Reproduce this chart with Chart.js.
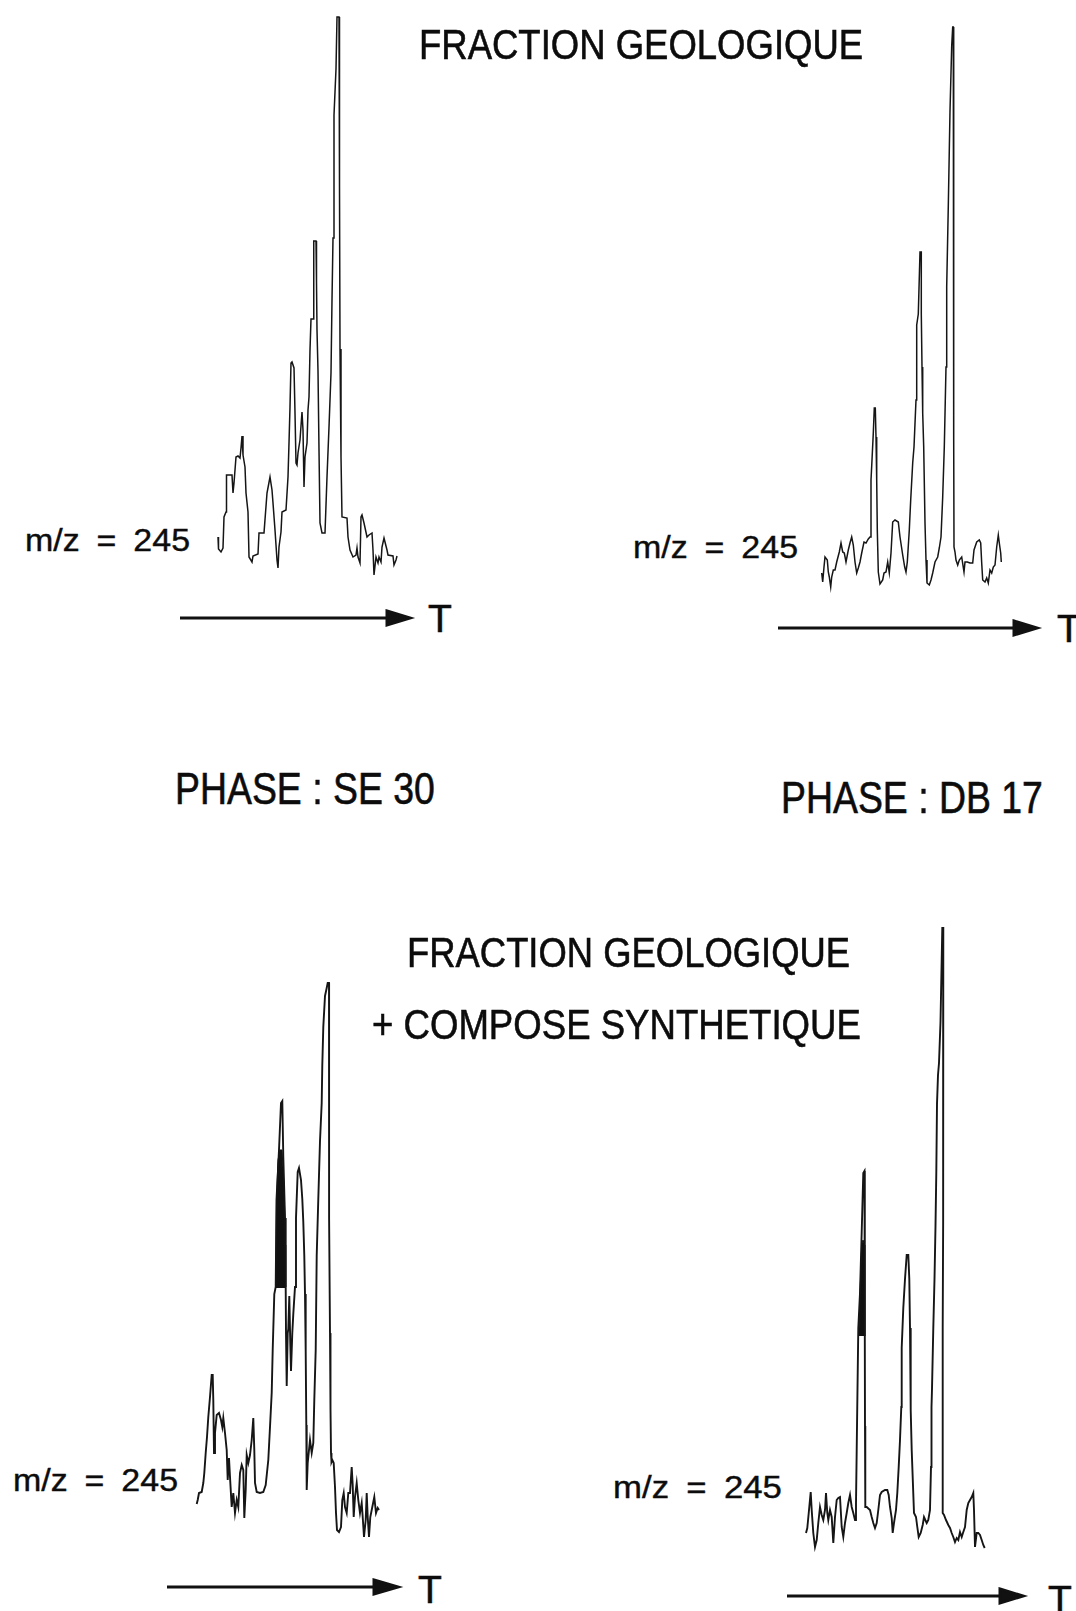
<!DOCTYPE html>
<html>
<head>
<meta charset="utf-8">
<script src="https://cdn.jsdelivr.net/npm/chart.js@4.4.1/dist/chart.umd.min.js"></script>
<style>
  html, body { margin: 0; padding: 0; background: #fff; }
  #page { position: relative; width: 1076px; height: 1611px; overflow: hidden; background: #fff; }
  canvas { position: absolute; }
  .lbl { position: absolute; white-space: nowrap; line-height: 1; color: #0c0c0c;
         font-family: "Liberation Sans", Arial, sans-serif; transform-origin: 0 0;
         -webkit-text-stroke: 0.6px #0c0c0c; }
  .big { font-size: 42px; }
  .phase { font-size: 44px; }
  .mz { font-size: 32px; word-spacing: 7px; -webkit-text-stroke: 0.4px #0c0c0c; }
  .t { font-size: 39px; }
  svg { position: absolute; left: 0; top: 0; }
</style>
</head>
<body>
<div id="page">
  <canvas id="c1" width="190" height="580" style="left:215px;top:0px"></canvas>
  <canvas id="c2" width="195" height="595" style="left:815px;top:0px"></canvas>
  <canvas id="c3" width="195" height="595" style="left:190px;top:950px"></canvas>
  <canvas id="c4" width="195" height="635" style="left:800px;top:920px"></canvas>

  <div class="lbl big" data-w="444" style="left:419px;top:24px">FRACTION GEOLOGIQUE</div>
  <div class="lbl phase" data-w="260" style="left:175px;top:767px">PHASE : SE 30</div>
  <div class="lbl phase" data-w="262" style="left:781px;top:776px">PHASE : DB 17</div>
  <div class="lbl big" data-w="443" style="left:407px;top:932px">FRACTION GEOLOGIQUE</div>
  <div class="lbl big" data-w="489" style="left:372px;top:1004px">+ COMPOSE SYNTHETIQUE</div>

  <div class="lbl mz" data-w="165" style="left:25px;top:524px">m/z = 245</div>
  <div class="lbl mz" data-w="165" style="left:633px;top:531px">m/z = 245</div>
  <div class="lbl mz" data-w="165" style="left:13px;top:1464px">m/z = 245</div>
  <div class="lbl mz" data-w="169" style="left:613px;top:1471px">m/z = 245</div>

  <div class="lbl t" style="left:428px;top:599px">T</div>
  <div class="lbl t" style="left:1057px;top:609px">T</div>
  <div class="lbl t" style="left:418px;top:1570px">T</div>
  <div class="lbl t" style="left:1048px;top:1580px">T</div>

  <svg width="1076" height="1611">
    <g stroke="#111" stroke-width="3" fill="#111">
      <line x1="180" y1="618" x2="392" y2="618"/>
      <polygon points="387,611 410,618 387,625"/>
      <line x1="778" y1="628" x2="1018" y2="628"/>
      <polygon points="1014,621 1037,628 1014,635"/>
      <line x1="167" y1="1587" x2="378" y2="1587"/>
      <polygon points="374,1580 398,1587 374,1594"/>
      <line x1="787" y1="1596" x2="1004" y2="1596"/>
      <polygon points="1000,1589 1023,1596 1000,1603"/>
    </g>
  </svg>
</div>

<script>
// ---- Datos leídos del cromatogramme (m/z = 245) ----
// temps de rétention (unités arbitraires) et intensité du signal

// Fraction géologique, phase SE 30
const p1Time = [3,3.5,6,8,9,11,11.5,17,18,19,21,23,25,26,27,28,30,31,33,34,37,38,43,44,49,52,55,57,58,60,62,63,64,66,67,71,73,74,75,76,77,79,80,81,82,83,85,87,88,89,90,92,93,94,95,96,98,98.5,99,101,101.5,102,103,104,105,107,110,112,114,116,117,118,119,121,122,124,124.5,125,126,127,132,133,135,138,141,142,143,145,146,147,149,152,154,157,158,159,161,163,164,166,167,169,172,173,178,179,181,182];
const p1Signal = [43,31,28,32,63,68,105,105,87,97,123,124,122,132,144,125,113,87,68,23,18,24,26,47,47,87,103,90,77,50,20,12,33,48,68,70,103,137,173,217,218,212,167,117,115,127,140,168,150,93,123,137,170,183,230,261,261,298,339,339,298,250,209,130,57,47,47,103,153,207,280,342,465,511,563,563,394,231,123,63,62,43,30,23,25,32,23,17,63,65,57,43,45,47,30,5,23,17,23,18,33,42,30,25,24,15,20,24];

// Fraction géologique, phase DB 17
const p2Time = [6.7,7.7,9,10,12.3,13.3,14.3,15.7,16.7,18.3,20,21.7,24.3,26,27.7,29.3,31,33.3,35,36.7,38.3,40,41.7,43.3,45,46.7,49,51,53.3,55,56,57,58.3,59.3,60.3,61,61.7,62.3,63.3,65,67.7,69,71,72.7,74.3,76,77.7,80,83.3,85,87.7,89.7,91,92.3,94.3,95.7,97.7,99,101,101.7,103.3,105,106.3,106.3,107,107.7,108.7,110,111,112,114.3,116,117.7,120,122.7,124.3,126,127.7,129.3,131,131.7,133.3,135,136.7,137.7,138.3,138.7,138.7,139,140,141,142.7,144.3,146.7,149,150,152.3,155,157.7,159,161.7,164.3,165.7,166.7,167.7,170,171.7,173.3,175,176.7,178.3,180,181.7,183.3,184.3,185.7,186.3];
const p2Signal = [22,13,28,38,35,23,18,8,18,25,25,33,43,52,43,42,33,45,52,58,50,33,22,27,33,42,53,52,56,58,115,135,162,187,187,158,115,65,23,11,15,22,23,33,22,42,73,75,73,58,40,28,23,33,65,95,132,148,195,270,281,343,343,281,228,182,148,72,35,12,10,15,22,33,38,47,58,98,148,228,308,389,484,549,568,568,396,155,48,43,35,30,35,38,23,33,33,32,32,45,53,55,52,32,15,13,17,12,25,22,28,30,48,60,52,42,33];

// Fraction géologique + composé synthétique, phase SE 30
const p3Time = [6.7,7.7,9,11.7,13.3,14.3,15.7,17,18.3,20,21.7,22.7,23.3,24,25,26.7,29,31,32.3,33.3,35,36.7,37.7,39,40,41.7,43.3,45,46.7,48.3,50,51.7,53.3,54.3,55.7,56.7,58.3,60,61.7,63.3,64.3,65,66.7,70,73.3,75.7,78.3,80,81.7,82.7,84.3,85.7,86.5,89,91,92.3,93.3,95,95.7,96,96.7,97.7,98.3,99.3,100.3,101,102.3,103.3,105,106,107.7,109,111,112.3,113.3,114.3,115,115.7,116.3,116.7,117.7,119,120,121.7,123.3,124.3,125.7,126.7,128.3,130,131.7,132.3,133.3,135,136.7,137.7,139,139,139,139.3,140,140.5,141,141.5,142.3,143.7,145,146,147,149,151,152.3,153.7,155,156.7,158.3,160,161.7,162.7,163.7,165,166.7,168.3,170,171.7,172.7,174,175.7,176.7,177.7,179,180.3,182.3,184.3,186,187.7,189];
const p3Signal = [41,45,52,53,62,72,92,108,128,148,170,170,145,92,112,130,132,125,118,127,112,95,65,87,68,38,52,32,45,38,72,80,75,27,55,90,82,90,105,127,95,62,53,52,53,60,85,118,152,195,251,258,345,395,442,444,388,327,257,212,159,212,216,249,201,174,212,231,258,327,373,377,365,346,323,289,251,193,120,55,82,95,105,92,102,145,195,289,346,404,442,480,518,549,557,562,562,518,434,327,212,136,92,83,85,82,58,32,15,13,18,45,52,38,32,52,52,78,60,28,48,62,45,32,42,28,8,25,52,28,8,28,38,48,32,37,35];
// partie noircie (co-injection du composé synthétique)
const p3SynTime = [85.7,86.5,88,90,92,94,95.5,95.7];
const p3SynSignal = [258,345,385,395,395,360,300,258];
const p3SynBase = 257;

// Fraction géologique + composé synthétique, phase DB 17
const p4Time = [6,7.3,9.3,10.7,11.7,13.3,15,16.7,18.3,20,21.7,23.3,25,26,27.3,28.3,30,31.7,33.3,35,36.7,38.3,40,41.7,43.3,45,46.7,48.3,50,51.7,53.3,55,56,56.7,58.3,60,61.7,63.3,64.5,64.8,65,65.3,66.7,70,71.7,73.3,75,76.7,78.3,80,81.7,85,87.3,88.7,90,91.7,92.7,94,96,97.3,98.7,100,101.3,101.7,103.3,105,106.7,108.3,109.3,110,110.7,111.7,114,116,117.3,118.7,120.7,122.7,124,125.3,126.7,128.3,130,131,131.5,132,133.3,134.5,135.5,136.3,137,138,139,140.5,142.3,143.3,143.3,143,142.7,142.7,142.7,144,146,148.3,150,151.7,153.3,155,156.7,158.3,160,161.7,163.3,165,166.7,168.3,170,171.7,173.3,174,175,176.7,178.3,180,181.7,183.3,184.7];
const p4Signal = [22,27,48,63,45,22,8,15,32,48,40,35,45,62,42,35,45,38,12,38,55,57,58,28,18,32,42,52,60,48,42,35,52,105,227,262,323,382,384,219,129,48,48,45,38,32,27,32,45,60,63,65,65,60,48,37,22,32,45,62,88,115,148,207,247,276,300,300,276,227,145,105,42,38,28,18,22,30,38,35,32,35,45,88,148,166,227,276,329,382,451,480,492,533,627,627,480,333,227,145,42,40,35,30,27,22,18,13,17,15,23,18,23,28,45,52,55,58,62,45,8,22,22,20,15,10,7];
const p4SynTime = [58.8,60,61.7,63,64.5,64.8];
const p4SynSignal = [219,262,310,315,310,219];
const p4SynBase = 219;

function pts(xs, ys) {
    const n = Math.min(xs.length, ys.length);
    const out = [];
    for (let i = 0; i < n; i++) out.push({ x: xs[i], y: ys[i] });
    return out;
}

// --- un cromatogramme par canvas, sans axes ---
function trace(id, time, signal, lineWidth, syn) {
    const canvas = document.getElementById(id);
    const datasets = [{
        data: pts(time, signal),
        borderColor: '#151515',
        borderWidth: lineWidth,
        pointRadius: 0,
        tension: 0,
        fill: false,
        clip: false,
        borderJoinStyle: 'miter'
    }];
    if (syn) {
        datasets.push({
            data: pts(syn.time, syn.signal),
            borderColor: '#111',
            backgroundColor: '#111',
            borderWidth: 1,
            pointRadius: 0,
            tension: 0,
            fill: { value: syn.base },
            clip: false
        });
    }
    new Chart(canvas, {
        type: 'line',
        data: { datasets: datasets },
        options: {
            responsive: false,
            animation: false,
            events: [],
            layout: { padding: 0 },
            scales: {
                x: { type: 'linear', min: 0, max: canvas.width, display: false },
                y: { type: 'linear', min: 0, max: canvas.height, display: false }
            },
            plugins: { legend: { display: false }, tooltip: { enabled: false } }
        }
    });
}

trace('c1', p1Time, p1Signal, 1.5);
trace('c2', p2Time, p2Signal, 1.5);
trace('c3', p3Time, p3Signal, 1.9, { time: p3SynTime, signal: p3SynSignal, base: p3SynBase });
trace('c4', p4Time, p4Signal, 1.9, { time: p4SynTime, signal: p4SynSignal, base: p4SynBase });

// ajuster la largeur des textes (police étroite de l'original)
document.querySelectorAll('.lbl[data-w]').forEach(function(el) {
    const w = el.getBoundingClientRect().width;
    const target = parseFloat(el.getAttribute('data-w'));
    if (w > 0) el.style.transform = 'scaleX(' + (target / w).toFixed(3) + ')';
});
</script>
</body>
</html>
